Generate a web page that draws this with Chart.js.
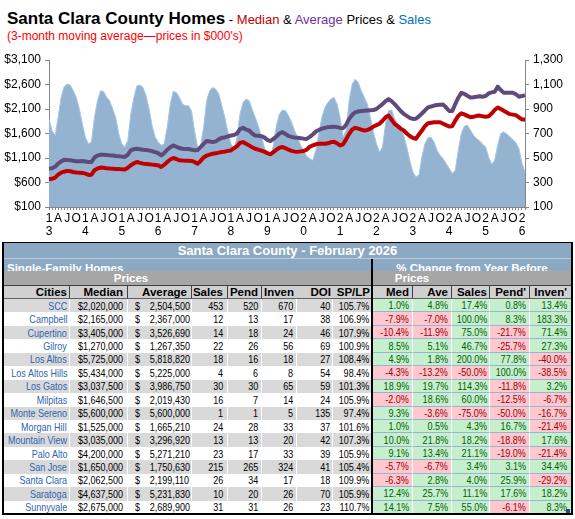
<!DOCTYPE html>
<html><head><meta charset="utf-8">
<script src="https://cdn.jsdelivr.net/npm/chart.js@4.4.1/dist/chart.umd.min.js"></script>
<style>
html,body{margin:0;padding:0;background:#fff;}
body{width:575px;height:519px;position:relative;overflow:hidden;font-family:"Liberation Sans",Arial,sans-serif;}
#t1{position:absolute;left:7px;top:10px;white-space:nowrap;line-height:17px;}
#t1 .big{font-size:17px;font-weight:bold;color:#000;}
#t1 .small{font-size:13px;color:#000;}
#t2{position:absolute;left:7px;top:30px;font-size:12px;line-height:12px;color:#ff0000;white-space:nowrap;}
#chart{position:absolute;left:0;top:45px;}
.c{position:absolute;box-sizing:border-box;overflow:hidden;white-space:nowrap;display:flex;align-items:center;}
.n{display:inline-block;}
</style>
</head>
<body>
<div id="t1"><span class="big">Santa Clara County Homes</span><span class="small"> - <span style="color:#C00000">Median</span> &amp; <span style="color:#7030A0">Average</span> Prices &amp; <span style="color:#0070C0">Sales</span></span></div>
<div id="t2">(3-month moving average—prices in $000's)</div>
<canvas id="chart" width="575" height="195" style="width:575px;height:195px"></canvas>
<div id="tbl"></div>
<script>
// ---------- chart data (3-month moving averages, monthly Jan 2013 - Feb 2026) ----------
const startYear = 2013;
const salesCounts = [
  819, 724, 684, 832, 995,1081,1103,1095,1049, 995, 900, 778,
  670, 616, 630, 832, 968,1049,1043, 995, 968, 900, 832, 697,
  616, 589, 643, 859, 995,1089,1095,1076,1008, 900, 765, 670,
  630, 603, 616, 751, 940,1043,1035, 995, 940, 927, 927, 886,
  720, 590, 600, 751, 968,1049,1076,1062,1022, 927, 832, 711,
  616, 562, 670, 859, 954, 981, 968, 900, 832, 765, 684, 589,
  522, 508, 603, 765, 859, 892, 886, 846, 792, 724, 670, 603,
  562, 513, 495, 481, 562, 697, 832, 913, 954, 981, 995, 940,
  832, 670, 724, 968,1103,1143,1116,1049, 995, 940, 832, 711,
  616, 549, 589, 778, 886, 892, 819, 778, 738, 684, 589, 481,
  386, 346, 359, 508, 616, 665, 670, 630, 562, 522, 495, 454,
  414, 373, 400, 564, 700, 760, 768, 727, 686, 659, 640, 613,
  591, 509, 449, 482, 605, 700, 714, 695, 673, 651, 624, 577,
  455, 386
];
const medianPrices = [
   667, 675, 700, 760, 800, 820, 837, 830, 815, 803, 800, 796,
   780, 755, 760, 850, 885, 904, 900, 890, 884, 880, 877, 875,
   868, 864, 900, 951, 990,1019,1000, 985, 978, 972, 965, 958,
   951, 918, 960,1019,1070,1100,1080,1053,1048,1045,1042,1040,
  1019, 985,1040,1110,1150,1170,1188,1195,1210,1222,1230,1245,
  1255,1300,1340,1410,1424,1390,1357,1320,1289,1270,1250,1230,
  1200,1175,1220,1269,1310,1323,1300,1269,1245,1230,1225,1235,
  1242,1270,1330,1357,1380,1390,1390,1390,1400,1424,1430,1400,
  1357,1380,1480,1593,1680,1715,1700,1680,1661,1670,1700,1742,
  1770,1800,1860,1930,1965,1880,1796,1750,1700,1661,1600,1550,
  1510,1492,1580,1661,1750,1810,1820,1830,1830,1830,1800,1770,
  1742,1750,1864,1960,2012,1990,1960,1931,1940,1960,1965,1950,
  1941,1950,2009,2080,2132,2100,2064,2030,1995,1985,1975,1930,
  1886,1886
];
const averagePrices = [
   884, 890, 920, 985,1030,1066,1060,1053,1045,1035,1032,1039,
  1030,1020,1019,1110,1150,1168,1165,1160,1154,1150,1140,1134,
  1128,1120,1170,1255,1280,1289,1280,1269,1262,1255,1240,1220,
  1201,1154,1200,1269,1320,1357,1330,1303,1290,1285,1282,1270,
  1255,1262,1323,1390,1445,1435,1424,1440,1480,1512,1520,1540,
  1559,1570,1600,1690,1715,1680,1661,1600,1560,1555,1545,1520,
  1470,1445,1490,1540,1600,1627,1590,1550,1530,1520,1512,1505,
  1495,1490,1530,1580,1640,1670,1700,1715,1730,1735,1740,1730,
  1715,1708,1780,1897,1980,2032,2050,2060,2066,2070,2075,2080,
  2100,2150,2200,2260,2303,2260,2200,2130,2060,2000,1960,1920,
  1897,1900,1950,2009,2070,2134,2150,2170,2180,2188,2190,2130,
  2060,2060,2200,2330,2430,2410,2370,2336,2340,2350,2360,2350,
  2364,2418,2440,2452,2555,2486,2432,2432,2432,2432,2400,2350,
  2364,2384
];
const quarterLetters = {3:'A', 6:'J', 9:'O'};
const monthLabels = salesCounts.map((_, i) => {
  const y = startYear + Math.floor(i / 12), m = i % 12 + 1;
  return y + '-' + String(m).padStart(2, '0');
});
const leftTicks = [100, 600, 1100, 1600, 2100, 2600, 3100];
const rightTicks = [100, 300, 500, 700, 900, 1100, 1300];

// ---------- table data ----------
const tableTitle = 'Santa Clara County - February 2026';
const cities = ['SCC','Campbell','Cupertino','Gilroy','Los Altos','Los Altos Hills','Los Gatos','Milpitas','Monte Sereno','Morgan Hill','Mountain View','Palo Alto','San Jose','Santa Clara','Saratoga','Sunnyvale'];
const medianSale = [2020000,2165000,3405000,1270000,5725000,5434000,3037500,1646500,5600000,1525000,3035000,4200000,1650000,2062500,4637500,2675000];
const averageSale = [2504500,2367000,3526690,1267350,5818820,5225000,3986750,2019430,5600000,1665210,3296920,5271210,1750630,2199110,5231830,2689900];
const salesCount = [453,12,14,22,18,4,30,16,1,24,13,23,215,26,10,31];
const pendCount = [520,13,18,26,16,6,30,7,1,28,13,17,265,34,20,31];
const invenCount = [670,17,24,56,18,8,65,14,5,33,20,33,324,17,26,26];
const doiDays = [40,38,46,69,27,54,59,24,135,37,42,39,41,18,70,23];
const spLp = [105.7,106.9,107.9,100.9,108.4,98.4,101.3,105.9,97.4,101.6,107.3,105.9,105.4,109.9,105.9,110.7];
const chgMed = [1.0,-7.9,-10.4,8.5,4.9,-4.3,18.9,-2.0,9.3,1.0,10.0,9.1,-5.7,-6.3,12.4,14.1];
const chgAve = [4.8,-7.0,-11.9,5.1,1.8,-13.2,19.7,18.6,-3.6,0.5,21.8,13.4,-6.7,2.8,25.7,7.5];
const chgSales = [17.4,100.0,75.0,46.7,200.0,-50.0,114.3,60.0,-75.0,4.3,18.2,21.1,3.4,4.0,11.1,55.0];
const chgPend = [0.8,8.3,-21.7,-25.7,77.8,100.0,-11.8,-12.5,-50.0,16.7,-18.8,-19.0,3.1,25.9,17.6,-6.1];
const chgInven = [13.4,183.3,71.4,27.3,-40.0,-38.5,3.2,-6.7,-16.7,-21.4,17.6,-21.4,34.4,-29.2,18.2,8.3];
const headers = ['Cities','Median','Average','Sales','Pend','Inven','DOI','SP/LP','Med','Ave','Sales',"Pend'","Inven'"];

// ---------- chart ----------
function tickText(i) {
  const m = i % 12;
  if (m === 0) { const ys = String(startYear + Math.floor(i / 12)); return [ys.charAt(2), ys.charAt(3)]; }
  return quarterLetters[m] || '';
}
const axisGray = '#868686';
const tickFont = {family: 'Liberation Sans', size: 12, lineHeight: 1.12};
new Chart(document.getElementById('chart'), {
  type: 'line',
  data: {
    labels: monthLabels,
    datasets: [
      {label: 'Median', data: medianPrices, yAxisID: 'y', borderColor: '#C00000', borderWidth: 4, pointRadius: 0, fill: false, tension: 0, order: 1, borderJoinStyle: 'round'},
      {label: 'Average', data: averagePrices, yAxisID: 'y', borderColor: '#604A7B', borderWidth: 4, pointRadius: 0, fill: false, tension: 0, order: 2, borderJoinStyle: 'round'},
      {label: 'Sales', data: salesCounts, yAxisID: 'y1', borderColor: '#A6C6E6', borderWidth: 1, backgroundColor: '#93B3D1', pointRadius: 0, fill: 'start', tension: 0, order: 3}
    ]
  },
  options: {
    responsive: false, animation: false, devicePixelRatio: 1,
    layout: {padding: {top: 15, left: 0, right: 0, bottom: 0}},
    plugins: {legend: {display: false}, tooltip: {enabled: false}},
    scales: {
      x: {
        offset: false,
        grid: {display: true, drawOnChartArea: false, drawTicks: true, tickLength: 3, color: axisGray},
        border: {display: true, color: axisGray},
        ticks: {autoSkip: false, maxRotation: 0, minRotation: 0, padding: 2, color: '#000', font: tickFont, callback: (v, i) => tickText(i)},
        afterFit: s => { s.height = 33; }
      },
      y: {
        position: 'left', min: leftTicks[0], max: leftTicks[leftTicks.length - 1],
        afterBuildTicks: s => { s.ticks = leftTicks.map(v => ({value: v})); },
        grid: {display: true, drawOnChartArea: false, drawTicks: true, tickLength: 4, color: axisGray},
        border: {display: true, color: axisGray},
        ticks: {padding: 4, color: '#000', font: tickFont, callback: v => '$' + Number(v).toLocaleString('en-US')},
        afterFit: s => { s.width = 49; }
      },
      y1: {
        position: 'right', min: rightTicks[0], max: rightTicks[rightTicks.length - 1],
        afterBuildTicks: s => { s.ticks = rightTicks.map(v => ({value: v})); },
        grid: {display: true, drawOnChartArea: false, drawTicks: true, tickLength: 4, color: axisGray},
        border: {display: true, color: axisGray},
        ticks: {padding: 4, color: '#000', font: tickFont, callback: v => Number(v).toLocaleString('en-US')},
        afterFit: s => { s.width = 50; }
      }
    }
  }
});

// ---------- table ----------
(function buildTable() {
  const tbl = document.getElementById('tbl');
  const ctx = document.createElement('canvas').getContext('2d');
  const probe = 'Los Altos Hills 2,504,500';
  ctx.font = '11px monospace'; const a = ctx.measureText(probe).width;
  ctx.font = '11px "Liberation Sans Narrow", monospace'; const b = ctx.measureText(probe).width;
  const narrow = Math.abs(a - b) > 0.5;
  const dataFont = narrow ? '11px "Liberation Sans Narrow", "Arial Narrow", sans-serif' : '11px "Liberation Sans", Arial, sans-serif';

  const colX = [3,70,128,192,228,262,297,333,372,413,452,490,530,572];
  const padR = [2,4,4,4,3,3,2,2,3,3,2,3,4];
  const rowTop = 299, rowBot = 514, nRows = cities.length;
  const rh = (rowBot - rowTop) / nRows;
  const blue = '#8CA9C3';

  function box(x0, y0, x1, y1, css, html) {
    const d = document.createElement('div');
    d.className = 'c';
    d.style.left = x0 + 'px'; d.style.top = y0 + 'px';
    d.style.width = (x1 - x0) + 'px'; d.style.height = (y1 - y0) + 'px';
    Object.assign(d.style, css || {});
    if (html !== undefined) d.innerHTML = html;
    tbl.appendChild(d);
    return d;
  }
  function txt(s, origin) {
    const t = narrow ? '' : 'transform:scaleX(0.82);transform-origin:' + origin + ' center;';
    return '<span class="n" style="' + t + '">' + s + '</span>';
  }
  const fmt = n => n.toLocaleString('en-US');
  const pct = n => n.toFixed(1) + '%';

  // row 1 title
  box(3, 242, 572, 259, {background: blue, justifyContent: 'center', color: '#fff', font: 'bold 13px "Liberation Sans", Arial, sans-serif', borderBottom: '1px solid #b9cadb'}, tableTitle);
  // row 2
  box(3, 259, 372, 271, {background: blue, color: '#fff', font: 'bold 11.5px "Liberation Sans", Arial, sans-serif', alignItems: 'flex-end', paddingLeft: '4px', lineHeight: '12px'}, '<span style="position:relative;top:3px">Single-Family Homes</span>');
  box(372, 259, 572, 271, {background: blue, color: '#fff', font: 'bold 11.5px "Liberation Sans", Arial, sans-serif', alignItems: 'flex-end', justifyContent: 'center', lineHeight: '12px'}, '<span style="position:relative;top:3px">% Change from Year Before</span>');
  // row 3
  box(3, 271, 572, 285, {background: '#A6A6A6'});
  box(colX[1], 271, colX[3], 285, {color: '#fff', font: 'bold 11.5px "Liberation Sans", Arial, sans-serif', justifyContent: 'center'}, 'Prices');
  box(colX[8], 271, colX[10], 285, {color: '#fff', font: 'bold 11.5px "Liberation Sans", Arial, sans-serif', justifyContent: 'center'}, 'Prices');
  // row 4 headers
  for (let c = 0; c < headers.length; c++) {
    box(colX[c], 285, colX[c + 1], 299, {background: '#D0D0D0', justifyContent: 'flex-end', paddingRight: padR[c] + 'px', font: 'bold 11.5px "Liberation Sans", Arial, sans-serif', color: '#000', borderTop: '1px solid #404040', borderBottom: '1px solid #606060', borderRight: (c === 5 || c === 6 || c === 7) ? 'none' : '1px solid #404040'}, headers[c]);
  }
  // data rows
  for (let i = 0; i < nRows; i++) {
    const y0 = rowTop + i * rh, y1 = rowTop + (i + 1) * rh;
    const bg = i % 2 === 0 ? '#D9D9D9' : '#FFFFFF';
    const left = [
      [cities[i], '#2F64B0'],
      ['$' + fmt(medianSale[i]), '#000'],
      [null, '#000'],
      [String(salesCount[i]), '#000'],
      [String(pendCount[i]), '#000'],
      [String(invenCount[i]), '#000'],
      [String(doiDays[i]), '#000'],
      [pct(spLp[i]), '#000']
    ];
    for (let c = 0; c < 8; c++) {
      const css = {background: bg, color: left[c][1], font: dataFont, justifyContent: 'flex-end', paddingRight: padR[c] + 'px', borderRight: '1px solid #fff'};
      if (c === 2) {
        css.justifyContent = 'space-between'; css.paddingLeft = '7px';
        box(colX[c], y0, colX[c + 1], y1, css, txt('$', 'left') + txt(fmt(averageSale[i]), 'right'));
      } else {
        box(colX[c], y0, colX[c + 1], y1, css, txt(left[c][0], 'right'));
      }
    }
    const right = [chgMed[i], chgAve[i], chgSales[i], chgPend[i], chgInven[i]];
    for (let k = 0; k < 5; k++) {
      const c = 8 + k, v = right[k], pos = v >= 0;
      box(colX[c], y0, colX[c + 1], y1, {
        background: pos ? '#C6EFCE' : '#FFC7CE', color: pos ? '#006100' : '#9C0006',
        font: dataFont, justifyContent: 'flex-end', paddingRight: padR[c] + 'px',
        borderRight: '1px solid #fff', borderBottom: i < nRows - 1 ? '1px solid #95B3D7' : 'none'
      }, txt(pct(v), 'right'));
    }
  }
  // heavy borders
  const blk = {background: '#000'};
  box(2, 241.5, 573, 242.5, blk);
  box(2, 242, 4, 515, blk);
  box(571, 242, 573, 515, blk);
  box(2, 513, 573, 515, blk);
  box(371, 259, 373, 514, blk);
  box(566, 509, 570, 513, {background: '#1F4E79'});
})();
</script>
</body></html>
